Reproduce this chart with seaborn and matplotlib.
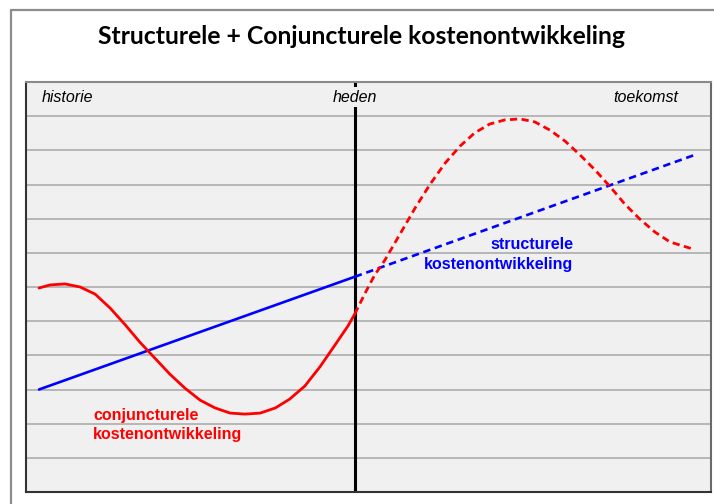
import numpy as np
import pandas as pd
import matplotlib
matplotlib.use("Agg")
import matplotlib.pyplot as plt
from matplotlib.lines import Line2D
import seaborn as sns

# tijd-as 0..100, kosten-as 0..12 (willekeurige eenheden)
heden = 48.0

blauw_x = [1.9, 48.0, 97.4]
blauw_y = [3.0, 6.3, 9.85]

rood_hist_x = [1.9, 3.5, 5.7, 7.9, 10.1, 12.3, 14.5, 16.6, 18.8, 21.0, 23.2, 25.4,
               27.6, 29.8, 32.0, 34.2, 36.4, 38.5, 40.7, 42.9, 45.1, 47.0, 48.0]
rood_hist_y = [5.97, 6.06, 6.09, 6.00, 5.79, 5.38, 4.89, 4.39, 3.92, 3.45, 3.04, 2.69,
               2.46, 2.31, 2.28, 2.31, 2.46, 2.72, 3.10, 3.66, 4.30, 4.86, 5.21]

rood_tk_x = [48.0, 49.5, 50.9, 52.4, 54.6, 56.8, 59.0, 61.2, 63.4, 65.5, 67.7, 69.9, 72.1,
             74.3, 76.5, 78.7, 80.9, 83.1, 85.3, 87.4, 89.6, 91.8, 94.0, 95.9, 97.4]
rood_tk_y = [5.21, 5.82, 6.35, 6.79, 7.55, 8.31, 9.01, 9.63, 10.13, 10.51, 10.77, 10.89, 10.92,
             10.83, 10.59, 10.27, 9.86, 9.42, 8.93, 8.43, 7.99, 7.61, 7.32, 7.20, 7.11]

sns.set_style("white")
plt.rcParams['font.family'] = ['Liberation Sans', 'DejaVu Sans']
plt.rcParams['text.color'] = 'black'

fig = plt.figure(figsize=(7.14, 5.04), dpi=100)
ax = fig.add_axes([26 / 714, 12 / 504, 685 / 714, 410 / 504])
ax.set_facecolor("#f0f0f0")
ax.set_xlim(0, 100)
ax.set_ylim(0, 12)

for yy in range(1, 12):
    ax.axhline(yy, color="#a6a6a6", lw=1.1, zorder=1)

ax.axvline(heden, color="black", lw=2.2, zorder=2)

blauw_hist = pd.DataFrame({"t": blauw_x[:2], "k": blauw_y[:2]})
blauw_tk = pd.DataFrame({"t": blauw_x[1:], "k": blauw_y[1:]})
sns.lineplot(data=blauw_hist, x="t", y="k", color="#0000ff", lw=1.9, ax=ax, zorder=3)
sns.lineplot(data=blauw_tk, x="t", y="k", color="#0000ff", lw=1.9,
             linestyle=(0, (2.8, 1.8)), ax=ax, zorder=3)

rood_hist = pd.DataFrame({"t": rood_hist_x, "k": rood_hist_y})
rood_tk = pd.DataFrame({"t": rood_tk_x, "k": rood_tk_y})
sns.lineplot(data=rood_hist, x="t", y="k", color="#ff0000", lw=2.0, ax=ax, zorder=4,
             sort=False)
sns.lineplot(data=rood_tk, x="t", y="k", color="#ff0000", lw=2.0,
             linestyle=(0, (2.6, 1.6)), ax=ax, zorder=4, sort=False)

ax.set_xticks([])
ax.set_yticks([])
ax.set_xlabel("")
ax.set_ylabel("")
ax.spines["left"].set_color("#333333")
ax.spines["bottom"].set_color("#333333")
ax.spines["top"].set_color("#8a8a8a")
ax.spines["right"].set_color("#6a6a6a")
for s in ax.spines.values():
    s.set_linewidth(1.5)

lab_y = 11.55
ax.text(2.3, lab_y, "historie", style="italic", fontsize=11.5, va="center", ha="left")
ax.text(heden, lab_y, "heden", style="italic", fontsize=11.5, va="center", ha="center",
        zorder=5, bbox=dict(boxstyle="square,pad=0.15", fc="#f0f0f0", ec="none"))
ax.text(95.2, lab_y, "toekomst", style="italic", fontsize=11.5, va="center", ha="right")

ax.text(79.9, 6.95, "structurele\nkostenontwikkeling", color="#0000ff", fontsize=11.5,
        fontweight="bold", ha="right", va="center", multialignment="right",
        linespacing=1.4, zorder=6)
ax.text(9.8, 1.96, "conjuncturele\nkostenontwikkeling", color="#ff0000", fontsize=11.5,
        fontweight="bold", ha="left", va="center", multialignment="left",
        linespacing=1.4, zorder=6)

fig.text(362 / 714, 1 - 36 / 504, "Structurele + Conjuncturele kostenontwikkeling",
         fontsize=17.8, fontweight="bold", ha="center", va="center", color="black",
         family=["Lato", "DejaVu Sans"])

# grijze kader rond de dia
fig.add_artist(Line2D([11 / 714, 11 / 714], [0, 1 - 10 / 504], transform=fig.transFigure,
                      color="#8c8c8c", lw=1.6))
fig.add_artist(Line2D([11 / 714, 1], [1 - 10 / 504, 1 - 10 / 504], transform=fig.transFigure,
                      color="#8c8c8c", lw=1.6))

fig.savefig("out.png", dpi=100, facecolor="white")
